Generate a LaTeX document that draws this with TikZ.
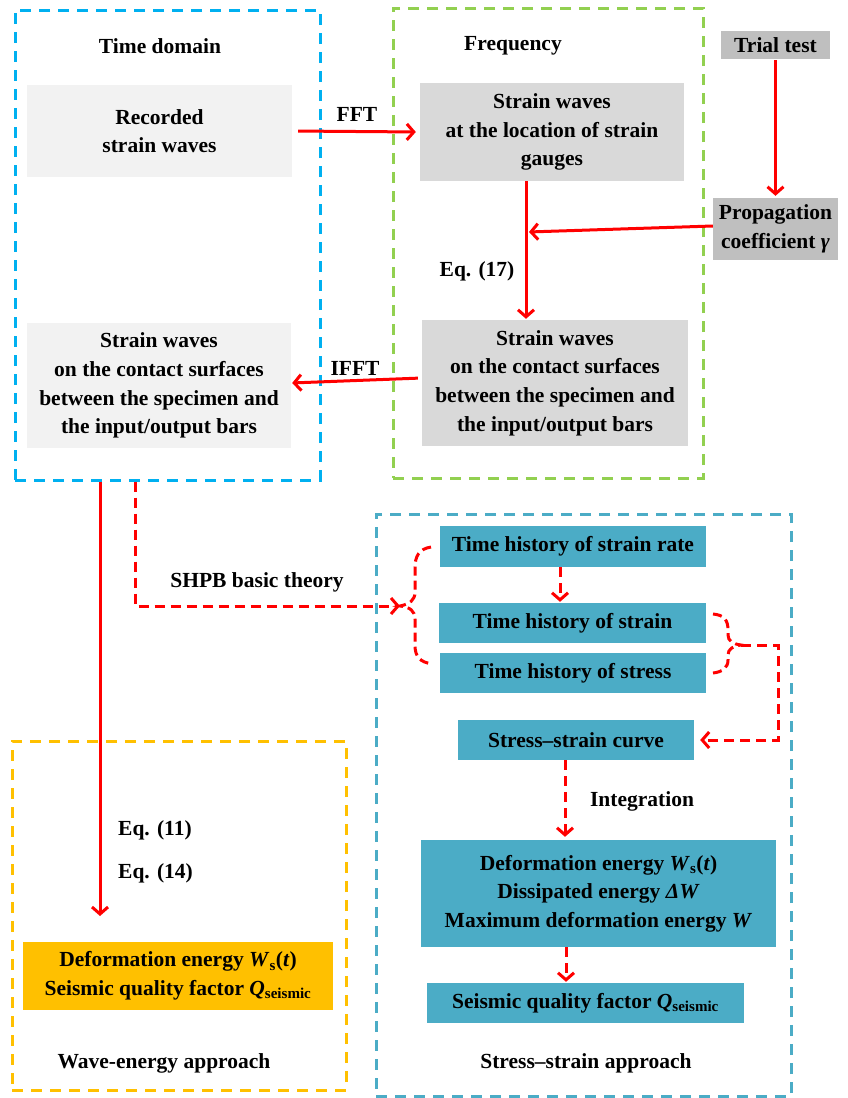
\documentclass[tikz,border=0pt]{standalone}
\usepackage{fontspec}
\setmainfont{Liberation Serif}
\usetikzlibrary{arrows.meta,calc}
\definecolor{cframeblue}{RGB}{0,176,240}
\definecolor{cframegreen}{RGB}{146,208,80}
\definecolor{cframeyellow}{RGB}{255,192,0}
\definecolor{cteal}{RGB}{75,172,198}
\definecolor{clgray}{RGB}{242,242,242}
\definecolor{cmgray}{RGB}{217,217,217}
\definecolor{cdgray}{RGB}{191,191,191}
\definecolor{cred}{RGB}{255,0,0}
\tikzset{
  every node/.style={font=\fontsize{21.5}{28.7}\selectfont\bfseries, inner sep=0pt, align=center},
  frame/.style={draw, line width=3pt, dash pattern=on 11pt off 8pt, minimum width=#1},
  boxlg/.style={fill=clgray},
  boxmg/.style={fill=cmgray},
  boxdg/.style={fill=cdgray},
  boxteal/.style={fill=cteal},
  redarrow/.style={draw=cred, line width=3pt, -{Straight Barb[length=7pt,width=16pt,line width=3pt]}},
  redline/.style={draw=cred, line width=3pt},
  reddash/.style={dash pattern=on 10pt off 6pt},
}
\begin{document}
\begin{tikzpicture}[x=1pt,y=-1pt]
\useasboundingbox (0,0) rectangle (848,1098);
% frames
\node[frame=305pt, draw=cframeblue, minimum height=470pt] (tf) at (167.5,245) {};
\node[frame=310pt, draw=cframegreen, minimum height=470pt] (ff) at (548,243) {};
\node[frame=334pt, draw=cframeyellow, minimum height=349pt] (yf) at (179,915.5) {};
\node[frame=415pt, draw=cteal, minimum height=582pt] (sf) at (583.5,805) {};
% titles
\node (t1) at (160,46) {Time domain};
\node (t2) at (513,46) {Frequency};
\node (t3) at (164,1063) {Wave-energy approach};
\node (t4) at (586,1063) {Stress--strain approach};
% boxes
\node[boxlg, minimum width=265pt, minimum height=92pt] (rec) at (159.5,131) {Recorded\\strain waves};
\node[boxmg, minimum width=264pt, minimum height=98pt] (sw1) at (552,132) {Strain waves\\at the location of strain\\gauges};
\node[boxdg, minimum width=109pt, minimum height=28pt] (trial) at (775.5,45) {Trial test};
\node[boxdg, minimum width=125pt, minimum height=62pt] (prop) at (775.5,229) {Propagation\\coefficient \textit{γ}};
\node[boxmg, minimum width=266pt, minimum height=126pt] (sw2) at (555,383) {Strain waves\\on the contact surfaces\\between the specimen and\\the input/output bars};
\node[boxlg, minimum width=264pt, minimum height=125pt] (cs) at (159,385.5) {Strain waves\\on the contact surfaces\\between the specimen and\\the input/output bars};
\node[fill=cframeyellow, minimum width=310pt, minimum height=68pt] (ye) at (178,976) {Deformation energy \textit{W}\textsubscript{s}(\textit{t})\\Seismic quality factor \textit{Q}\textsubscript{seismic}};
\node[boxteal, minimum width=266pt, minimum height=41pt] (sr) at (573,546.5) {Time history of strain rate};
\node[boxteal, minimum width=267pt, minimum height=40pt] (st) at (572.5,623) {Time history of strain};
\node[boxteal, minimum width=266pt, minimum height=40pt] (ss) at (573,673) {Time history of stress};
\node[boxteal, minimum width=236pt, minimum height=40pt] (sc) at (576,740) {Stress--strain curve};
\node[boxteal, minimum width=355pt, minimum height=107pt] (de) at (598.5,893.5) {Deformation energy \textit{W}\textsubscript{s}(\textit{t})\\Dissipated energy \textit{ΔW}\\Maximum deformation energy \textit{W}};
\node[boxteal, minimum width=317pt, minimum height=40pt] (qs) at (585.5,1003) {Seismic quality factor \textit{Q}\textsubscript{seismic}};
% labels
\node (lfft) at (357,114) {FFT};
\node (lifft) at (355,368) {IFFT};
\node (l17) at (477,271) {Eq. (17)};
\node (lshpb) at (257,582) {SHPB basic theory};
\node[anchor=west] (l11) at (118,830) {Eq. (11)};
\node[anchor=west] (l14) at (118,873) {Eq. (14)};
\node (lint) at (642,801) {Integration};
% coordinates
\coordinate (jp) at (528,232);
\coordinate (e1) at (100,916);
\coordinate (lbt) at (400,606);
\coordinate (rbt) at (741,645);
% connectors
\draw[redarrow, shorten <=6pt, shorten >=4pt] (rec.east) -- (sw1.west);
\draw[redarrow, shorten >=2pt] (trial.south -| prop.north) ++(0,1) -- (prop.north);
\draw[redarrow, shorten >=1pt] ([yshift=3pt]prop.west) -- (jp);
\draw[redarrow, shorten >=1pt] ([xshift=-26pt]sw1.south) -- ([xshift=-29pt]sw2.north);
\draw[redarrow, shorten <=4pt, shorten >=1pt] ([yshift=5pt]sw2.west) -- ([yshift=2.5pt]cs.east);
\draw[redarrow] ([xshift=-67.5pt]tf.south) -- (e1);
\draw[redarrow, reddash] ([xshift=-32.5pt]tf.south) |- (lbt);
\draw[redarrow, reddash, shorten >=1pt] ([xshift=-13pt]sr.south) -- ([xshift=-12.5pt]st.north);
\draw[redarrow, reddash] (rbt) -- (778,645) |- ([xshift=6pt]sc.east);
\draw[redarrow, reddash, shorten >=3pt] ([xshift=-11pt]sc.south) -- ([xshift=-33.5pt]de.north);
\draw[redarrow, reddash, shorten >=1pt] ([xshift=-32.5pt]de.south) -- ([xshift=-19.5pt]qs.north);
% braces
\draw[redline, dash pattern=on 9pt off 5pt] (431,547) .. controls (419,549) and (415,556) .. (415,568) -- (415,592) .. controls (415,600) and (410,604) .. (lbt) .. controls (410,607) and (415,611) .. (415,619) -- (415,645) .. controls (415,657) and (420,662) .. (432,664);
\draw[redline, dash pattern=on 9pt off 5pt] (713,614) .. controls (724,615) and (728,620) .. (728,630) -- (728,635) .. controls (728,641) and (733,644) .. (rbt) .. controls (733,646) and (728,649) .. (728,655) -- (728,660) .. controls (728,668) and (722,672) .. (713,673);
\end{tikzpicture}
\end{document}
